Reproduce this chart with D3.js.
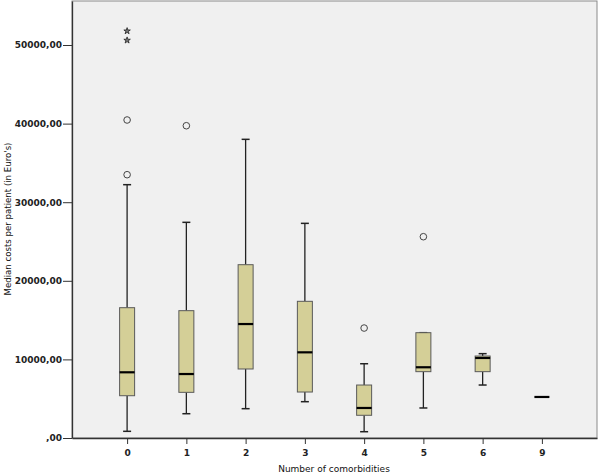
<!DOCTYPE html>
<html><head><meta charset="utf-8">
<script src="https://cdn.jsdelivr.net/npm/d3@7"></script>
<style>body{margin:0;background:#fff}svg{display:block}text{font-family:"DejaVu Sans",Verdana,sans-serif}</style>
</head><body><svg id="c" width="600" height="475"></svg>
<script>
const categories = ["0","1","2","3","4","5","6","9"];
const whiskerLow  = [850, 3090, 3730, 4620, 800, 3820, 6740, 5220];
const q1          = [5380, 5810, 8780, 5850, 2890, 8440, 8440, 5220];
const medians     = [8360, 8140, 14500, 10900, 3820, 9000, 10180, 5220];
const q3          = [16580, 16200, 22050, 17390, 6740, 13400, 10430, 5220];
const whiskerHigh = [32230, 27440, 38000, 27310, 9450, 13400, 10730, 5220];
const outlierCircles = [["0",33500],["0",40460],["1",39730],["4",13990],["5",25610]];
const outlierStars   = [["0",50600],["0",51780]];
const yTicks = [0,10000,20000,30000,40000,50000];

const svg = d3.select("#c");
const L=72, R=597, T=1, B=438;
const x = d3.scalePoint().domain(categories).range([L,R]).padding(0.93);
const y = d3.scaleLinear().domain([0,55600]).range([B,T]);
const fmt = v => v===0 ? ",00" : v + ",00";

svg.append("rect").attr("x",L).attr("y",T).attr("width",R-L).attr("height",B-T)
  .attr("fill","#f0f0f0").attr("stroke","#8a8a8a").attr("stroke-width",1);

const boxW = 15, capW = 8;
const g = svg.append("g");
categories.forEach((c,i)=>{
  const cx = x(c);
  const single = q1[i]===q3[i];
  if(!single){
    g.append("line").attr("x1",cx).attr("x2",cx).attr("y1",y(whiskerLow[i])).attr("y2",y(q1[i])).attr("stroke","#222").attr("stroke-width",1.3);
    g.append("line").attr("x1",cx).attr("x2",cx).attr("y1",y(q3[i])).attr("y2",y(whiskerHigh[i])).attr("stroke","#222").attr("stroke-width",1.3);
    g.append("line").attr("x1",cx-capW/2).attr("x2",cx+capW/2).attr("y1",y(whiskerLow[i])).attr("y2",y(whiskerLow[i])).attr("stroke","#222").attr("stroke-width",1.5);
    g.append("line").attr("x1",cx-capW/2).attr("x2",cx+capW/2).attr("y1",y(whiskerHigh[i])).attr("y2",y(whiskerHigh[i])).attr("stroke","#222").attr("stroke-width",1.5);
    g.append("rect").attr("x",cx-boxW/2).attr("width",boxW).attr("y",y(q3[i])).attr("height",y(q1[i])-y(q3[i]))
      .attr("fill","#d4cf97").attr("stroke","#5a5a5a").attr("stroke-width",1);
  }
  g.append("line").attr("x1",cx-boxW/2).attr("x2",cx+boxW/2).attr("y1",y(medians[i])).attr("y2",y(medians[i])).attr("stroke","#000").attr("stroke-width",2.2);
});
outlierCircles.forEach(([c,v])=>{
  g.append("circle").attr("cx",x(c)).attr("cy",y(v)).attr("r",3.3).attr("fill","none").attr("stroke","#444").attr("stroke-width",1);
});
const star = d3.symbol().type(d3.symbolStar).size(13);
outlierStars.forEach(([c,v])=>{
  g.append("path").attr("d",star).attr("transform",`translate(${x(c)},${y(v)})`).attr("fill","#777").attr("stroke","#222").attr("stroke-width",0.8);
});

const yAxis = d3.axisLeft(y).tickValues(yTicks).tickFormat(fmt).tickSize(9).tickSizeOuter(0);
const ya = svg.append("g").attr("transform",`translate(${L},0)`).call(yAxis);
ya.select(".domain").attr("stroke","#333").attr("stroke-width",1.3);
ya.selectAll(".tick line").attr("stroke","#333");
ya.selectAll(".tick text").attr("font-size",9).attr("font-weight","bold").attr("fill","#222").attr("x",-10).attr("font-family","DejaVu Sans");

const xAxis = d3.axisBottom(x).tickSize(6).tickSizeOuter(0);
const xa = svg.append("g").attr("transform",`translate(0,${B})`).call(xAxis);
xa.select(".domain").attr("stroke","#333").attr("stroke-width",1.3);
xa.selectAll(".tick line").attr("stroke","#333");
xa.selectAll(".tick text").attr("font-size",9).attr("font-weight","bold").attr("fill","#222").attr("dy","0.95em").attr("y",9).attr("font-family","DejaVu Sans");

svg.append("text").attr("x",334).attr("y",472).attr("text-anchor","middle").attr("font-size",9).attr("fill","#111").text("Number of comorbidities");
svg.append("text").attr("transform","translate(11,219) rotate(-90)").attr("text-anchor","middle").attr("font-size",8.6).attr("fill","#111").text("Median costs per patient (in Euro's)");
</script></body></html>
